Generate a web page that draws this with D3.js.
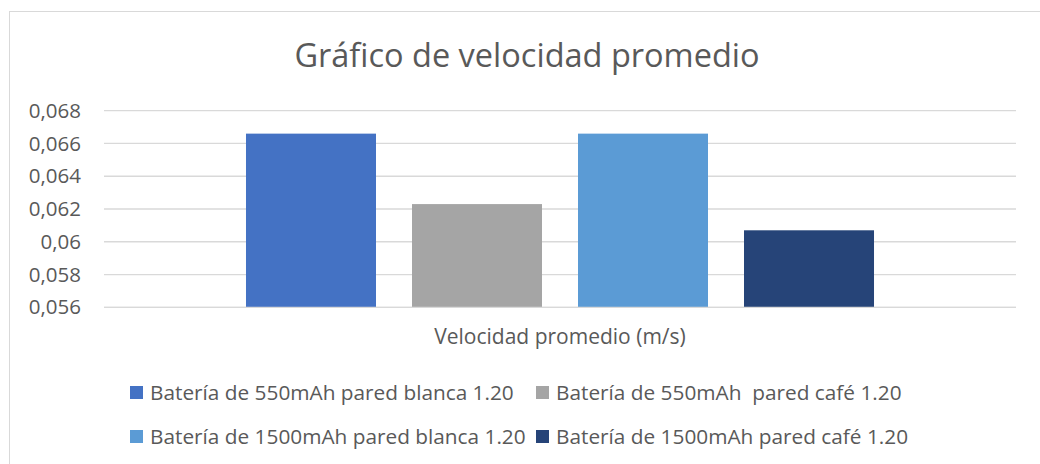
<!DOCTYPE html>
<html>
<head>
<meta charset="utf-8">
<script src="https://cdn.jsdelivr.net/npm/d3@7"></script>
<style>
  html, body { margin: 0; padding: 0; background: #fff; }
  svg { display: block; }
  text { font-family: "Open Sans", sans-serif; fill: #595959; white-space: pre; }
</style>
</head>
<body>
<svg id="chart" width="1040" height="464"></svg>
<script>
// Average speed per battery / wall combination
const categories = ["Velocidad promedio (m/s)"];
const seriesNames = [
  "Batería de 550mAh pared blanca 1.20",
  "Batería de 550mAh  pared café 1.20",
  "Batería de 1500mAh pared blanca 1.20",
  "Batería de 1500mAh pared café 1.20"
];
const seriesValues = [0.0666, 0.0623, 0.0666, 0.0607];
const seriesColors = ["#4472C4", "#A5A5A5", "#5B9BD5", "#264478"];
const yTicks = [0.056, 0.058, 0.060, 0.062, 0.064, 0.066, 0.068];
const yDomain = [0.056, 0.068];
const titleText = "Gráfico de velocidad promedio";

const svg = d3.select("#chart");

// Outer chart frame
svg.append("rect")
  .attr("x", 9.5).attr("y", 11.5)
  .attr("width", 1100).attr("height", 500)
  .attr("fill", "none").attr("stroke", "#d9d9d9").attr("stroke-width", 1);

const plot = { left: 104, right: 1016, top: 110.7, bottom: 307.3 };

const y = d3.scaleLinear().domain(yDomain).range([plot.bottom, plot.top]);

const x0 = d3.scaleBand().domain(categories)
  .range([plot.left, plot.right]).paddingInner(0).paddingOuter(0.2261);

const x1 = d3.scaleBand().domain(seriesNames)
  .range([0, x0.bandwidth()]).paddingInner(0.2169).paddingOuter(0);

const fmt = d3.formatLocale({ decimal: ",", thousands: ".", grouping: [3], currency: ["", ""] }).format(".3~f");

// Gridlines
svg.append("g").selectAll("line").data(yTicks).join("line")
  .attr("x1", plot.left).attr("x2", plot.right)
  .attr("y1", d => y(d)).attr("y2", d => y(d))
  .attr("stroke", "#d9d9d9").attr("stroke-width", 1.3);

// Y axis labels
const yAxis = svg.append("g")
  .attr("transform", `translate(${plot.left},0)`)
  .call(d3.axisLeft(y).tickValues(yTicks).tickFormat(fmt).tickSize(0).tickPadding(23));
yAxis.select(".domain").remove();
yAxis.selectAll("text")
  .style("font-family", "'Open Sans', sans-serif")
  .style("font-size", "20.5px")
  .attr("fill", "#595959");

// Bars
const groups = svg.append("g").selectAll("g").data(categories).join("g")
  .attr("transform", d => `translate(${x0(d)},0)`);

groups.selectAll("rect")
  .data(() => seriesNames.map((n, i) => ({ name: n, value: seriesValues[i], color: seriesColors[i] })))
  .join("rect")
  .attr("x", d => x1(d.name))
  .attr("width", x1.bandwidth())
  .attr("y", d => y(d.value))
  .attr("height", d => y(yDomain[0]) - y(d.value))
  .attr("fill", d => d.color);

// Baseline
svg.append("line")
  .attr("x1", plot.left).attr("x2", plot.right)
  .attr("y1", y(yDomain[0])).attr("y2", y(yDomain[0]))
  .attr("stroke", "#d9d9d9").attr("stroke-width", 1.3);

// Category label
const xAxis = svg.append("g")
  .attr("transform", `translate(0,${plot.bottom})`)
  .call(d3.axisBottom(x0).tickSize(0).tickPadding(22));
xAxis.select(".domain").remove();
xAxis.selectAll("text")
  .style("font-family", "'Open Sans', sans-serif")
  .style("font-size", "21px")
  .attr("fill", "#595959");

// Title
svg.append("text")
  .attr("x", 527).attr("y", 67)
  .attr("text-anchor", "middle")
  .style("font-size", "32.5px")
  .text(titleText);

// Legend (2 x 2)
const legendPos = [
  { x: 130, y: 386 }, { x: 536, y: 386 },
  { x: 130, y: 430 }, { x: 536, y: 430 }
];
const legend = svg.append("g").selectAll("g")
  .data(seriesNames.map((n, i) => ({ name: n, color: seriesColors[i], pos: legendPos[i] })))
  .join("g")
  .attr("transform", d => `translate(${d.pos.x},${d.pos.y})`);
legend.append("rect")
  .attr("width", 13).attr("height", 13)
  .attr("fill", d => d.color);
legend.append("text")
  .attr("x", 20).attr("y", 13.5)
  .style("font-size", "20.8px")
  .text(d => d.name);
</script>
</body>
</html>
